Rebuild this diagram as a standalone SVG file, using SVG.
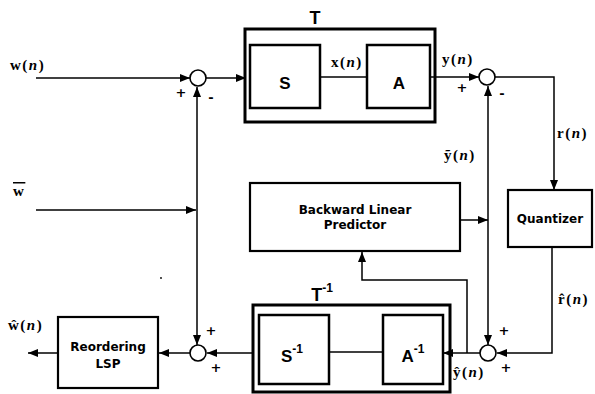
<svg xmlns="http://www.w3.org/2000/svg" width="595" height="394" viewBox="0 0 595 394">
<style>
.outer{fill:none;stroke:#000;stroke-width:3}
.inner{fill:#fff;stroke:#000;stroke-width:2.5}
.box{fill:#fff;stroke:#000;stroke-width:2.2}
.sum{fill:#fff;stroke:#000;stroke-width:1.6}
.ln{fill:none;stroke:#000;stroke-width:1.5}
.blk{font-family:"Liberation Sans",Arial,sans-serif;font-weight:bold;text-anchor:middle}
.bt{font-family:"DejaVu Sans","Liberation Sans",sans-serif;font-weight:bold;text-anchor:middle;font-size:12px}
.lbl{font-family:"Liberation Serif","Times New Roman",serif;font-weight:bold;font-size:15px;letter-spacing:1.5px}
.it{font-style:italic}
.sgn{font-family:"DejaVu Sans","Liberation Sans",sans-serif;font-weight:bold;font-size:13px;text-anchor:middle}
</style>
<defs>
<marker id="ah" markerUnits="userSpaceOnUse" markerWidth="11" markerHeight="9" refX="10" refY="4.5" orient="auto">
<path d="M0,0.5 L10,4.5 L0,8.5 Z" fill="#000"/>
</marker>
</defs>

<g id="connectors">
<path class="ln" d="M36,78 L190,78" marker-end="url(#ah)"/>
<path class="ln" d="M206,78 L246,78" marker-end="url(#ah)"/>
<path class="ln" d="M320,77 L367,77"/>
<path class="ln" d="M430,77 L479,77" marker-end="url(#ah)"/>
<path class="ln" d="M495,77 L554,77 L554,190" marker-end="url(#ah)"/>
<path class="ln" d="M552,247 L552,353 L497,353" marker-end="url(#ah)"/>
<path class="ln" d="M480,353 L443,353" marker-end="url(#ah)"/>
<path class="ln" d="M467,353 L467,280 L362,280 L362,252" marker-end="url(#ah)"/>
<path class="ln" d="M460,220 L488,220" marker-end="url(#ah)"/>
<path class="ln" d="M488,220 L488,86" marker-end="url(#ah)"/>
<path class="ln" d="M488,220 L488,345" marker-end="url(#ah)"/>
<path class="ln" d="M36,210 L196,210" marker-end="url(#ah)"/>
<path class="ln" d="M197,210 L197,87" marker-end="url(#ah)"/>
<path class="ln" d="M197,210 L197,345" marker-end="url(#ah)"/>
<path class="ln" d="M329,352 L383,352"/>
<path class="ln" d="M253,353 L207,353" marker-end="url(#ah)"/>
<path class="ln" d="M190,353 L159,353" marker-end="url(#ah)"/>
<path class="ln" d="M58,353 L28,353" marker-end="url(#ah)"/>
</g>

<g id="T">
<rect class="outer" x="245" y="29" width="190" height="93"/>
<text class="blk" x="315" y="24" font-size="18">T</text>
</g>
<g id="S">
<rect class="inner" x="250" y="45" width="70" height="63"/>
<text class="blk" x="285" y="89" font-size="17">S</text>
</g>
<g id="A">
<rect class="inner" x="367" y="45" width="63" height="63"/>
<text class="blk" x="399" y="89" font-size="17">A</text>
</g>
<g id="sum1"><circle class="sum" cx="198" cy="78" r="8"/></g>
<g id="sum2"><circle class="sum" cx="487" cy="77" r="8"/></g>
<g id="sum3"><circle class="sum" cx="198" cy="353" r="8"/></g>
<g id="sum4"><circle class="sum" cx="488" cy="353" r="8"/></g>

<g id="BLP">
<rect class="box" x="250" y="183" width="210" height="68"/>
<text class="bt" x="355" y="214">Backward Linear</text>
<text class="bt" x="355" y="229">Predictor</text>
</g>
<g id="Quantizer">
<rect class="box" x="508" y="190" width="84" height="57"/>
<text class="bt" x="550" y="223">Quantizer</text>
</g>
<g id="Tinv">
<rect class="outer" x="253" y="305" width="197" height="87"/>
<text class="blk" x="322" y="301" font-size="18">T<tspan dy="-9" font-size="12">-1</tspan></text>
</g>
<g id="Sinv">
<rect class="inner" x="259" y="315" width="70" height="69"/>
<text class="blk" x="292" y="362" font-size="17">S<tspan dy="-9" font-size="12">-1</tspan></text>
</g>
<g id="Ainv">
<rect class="inner" x="383" y="315" width="60" height="69"/>
<text class="blk" x="413" y="362" font-size="17">A<tspan dy="-9" font-size="12">-1</tspan></text>
</g>
<g id="Reorder">
<rect class="box" x="58" y="317" width="100" height="71"/>
<text class="bt" x="108" y="351">Reordering</text>
<text class="bt" x="108" y="368">LSP</text>
</g>

<g id="labels">
<text class="lbl" x="10" y="70">w(<tspan class="it">n</tspan>)</text>
<text class="lbl" x="13" y="196" text-decoration="overline">w</text>
<text class="lbl" x="331" y="67">x(<tspan class="it">n</tspan>)</text>
<text class="lbl" x="442" y="64">y(<tspan class="it">n</tspan>)</text>
<text class="lbl" x="557" y="138">r(<tspan class="it">n</tspan>)</text>
<text class="lbl" x="444" y="160">ỹ(<tspan class="it">n</tspan>)</text>
<text class="lbl" x="558" y="304">r̂(<tspan class="it">n</tspan>)</text>
<text class="lbl" x="453" y="377">ŷ(<tspan class="it">n</tspan>)</text>
<text class="lbl" x="8" y="330">ŵ(<tspan class="it">n</tspan>)</text>
<text class="sgn" x="181" y="97">+</text>
<text class="sgn" x="211" y="102">-</text>
<text class="sgn" x="462" y="92">+</text>
<text class="sgn" x="502" y="98">-</text>
<text class="sgn" x="211" y="335">+</text>
<text class="sgn" x="216" y="372">+</text>
<text class="sgn" x="504" y="335">+</text>
<text class="sgn" x="506" y="372">+</text>
</g>
<circle cx="161" cy="278" r="0.9" fill="#000"/>
</svg>
